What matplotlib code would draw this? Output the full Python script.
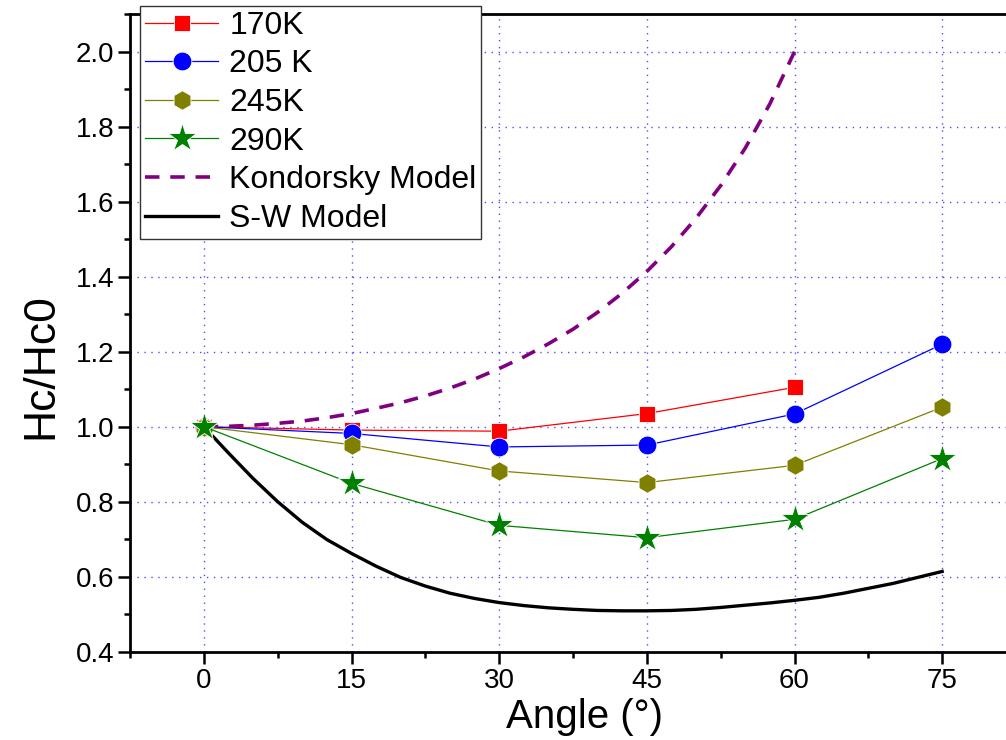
import matplotlib.pyplot as plt
from matplotlib.ticker import MultipleLocator

plt.rcParams['font.family'] = ['Liberation Sans', 'DejaVu Sans']

angles = [0, 15, 30, 45, 60, 75]
hc_170 = [1.0, 0.991, 0.988, 1.035, 1.105]
hc_205 = [1.0, 0.982, 0.946, 0.951, 1.034, 1.220]
hc_245 = [1.0, 0.952, 0.882, 0.851, 0.897, 1.052]
hc_290 = [1.0, 0.849, 0.737, 0.704, 0.753, 0.915]

# model curves, every 2.5 degrees
kond_angle = [0, 2.5, 5, 7.5, 10, 12.5, 15, 17.5, 20, 22.5, 25, 27.5, 30,
              32.5, 35, 37.5, 40, 42.5, 45, 47.5, 50, 52.5, 55, 57.5, 60]
kond_val = [1.0, 1.001, 1.004, 1.009, 1.015, 1.024, 1.035, 1.049, 1.064,
            1.082, 1.103, 1.127, 1.155, 1.186, 1.221, 1.260, 1.305, 1.356,
            1.414, 1.480, 1.556, 1.643, 1.743, 1.861, 2.0]
sw_angle = [0, 1, 2.5, 5, 7.5, 10, 12.5, 15, 17.5, 20, 22.5, 25, 27.5, 30,
            32.5, 35, 37.5, 40, 42.5, 45, 47.5, 50, 52.5, 55, 57.5, 60,
            62.5, 65, 67.5, 70, 72.5, 75]
sw_val = [1.0, 0.972, 0.930, 0.862, 0.800, 0.745, 0.699, 0.662, 0.628,
          0.598, 0.575, 0.556, 0.542, 0.531, 0.523, 0.517, 0.513, 0.510,
          0.509, 0.509, 0.510, 0.513, 0.518, 0.524, 0.530, 0.537, 0.545,
          0.556, 0.569, 0.582, 0.598, 0.614]

fig = plt.figure(figsize=(10.06, 7.40), dpi=100)
ax = fig.add_axes([130 / 1006, 88.3 / 740, 886 / 1006, 637.5 / 740])

ax.plot(angles[:5], hc_170, '-s', color='red', lw=0.9, ms=12,
        mec='white', mew=0.6, mfc='red', label='170K', zorder=5)
ax.plot(angles, hc_205, '-o', color='blue', lw=0.9, ms=13.5,
        mec='white', mew=0.6, mfc='blue', label='205 K', zorder=5)
ax.plot(angles, hc_245, '-h', color='#808000', lw=0.9, ms=14,
        mec='white', mew=0.6, mfc='#808000', label='245K', zorder=5)
ax.plot(angles, hc_290, '-*', color='green', lw=0.9, ms=21,
        mec='white', mew=0.6, mfc='green', label='290K', zorder=5)
ax.plot(kond_angle, kond_val, color='purple', lw=2.6, dashes=(4, 3),
        label='Kondorsky Model', zorder=4)
ax.plot(sw_angle, sw_val, color='black', lw=2.4, label='S-W Model', zorder=4)

ax.set_xlim(-7.5, 82.5)
ax.set_ylim(0.4, 2.1)
ax.xaxis.set_major_locator(MultipleLocator(15))
ax.xaxis.set_minor_locator(MultipleLocator(7.5))
ax.yaxis.set_major_locator(MultipleLocator(0.2))
ax.yaxis.set_minor_locator(MultipleLocator(0.1))
ax.yaxis.set_major_formatter(plt.FormatStrFormatter('%.1f'))

ax.grid(True, which='major', color='blue', alpha=0.7, lw=1.0,
        linestyle=(0, (1, 4)))
ax.set_axisbelow(True)

for s in ['left', 'bottom', 'top']:
    ax.spines[s].set_linewidth(2.0)
ax.spines['right'].set_visible(False)

ax.tick_params(which='major', direction='out', length=8.5, width=1.8,
               labelsize=20, pad=3)
ax.tick_params(which='minor', direction='out', length=4.3, width=1.8)
ax.tick_params(top=False, right=False)

fig.text(585 / 1006, 12 / 740, 'Angle (°)', fontsize=29, ha='center',
         va='baseline')
fig.text(41 / 1006, 1 - 366 / 740, 'Hc/Hc0', fontsize=32, rotation=90,
         ha='center', va='center')

leg = ax.legend(loc='upper left', bbox_to_anchor=(140 / 1006, 1 - 6 / 740),
                bbox_transform=fig.transFigure, borderaxespad=0,
                fontsize=23, handlelength=2.3, handletextpad=0.35,
                labelspacing=0.27, borderpad=0.15, fancybox=False,
                framealpha=1, edgecolor='#333333')
leg.get_frame().set_linewidth(1.0)
leg.set_zorder(10)

fig.savefig('out.png', dpi=100)
